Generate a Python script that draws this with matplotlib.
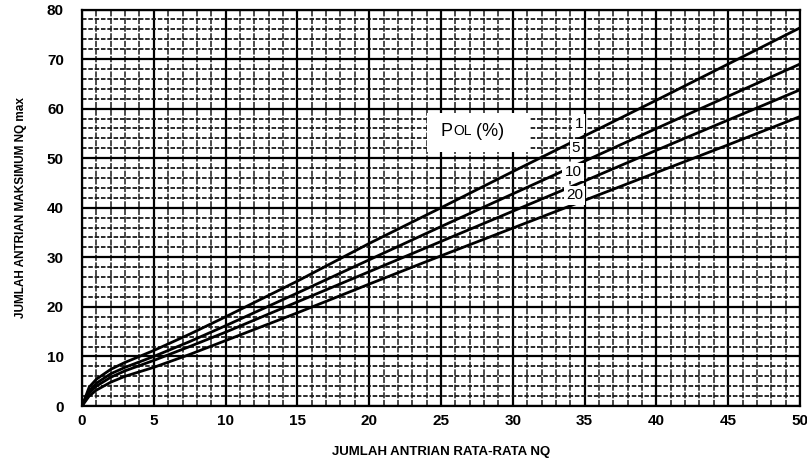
import numpy as np
import matplotlib
matplotlib.use("Agg")
import matplotlib.pyplot as plt
from matplotlib.ticker import MultipleLocator

plt.rcParams['font.family'] = ['Liberation Sans', 'DejaVu Sans']

# Jumlah antrian rata-rata NQ (sumbu x)
nq = [0, 0.5, 1, 2, 3, 5, 7.5, 10, 15, 20, 25, 30, 35, 40, 45, 50]

# Jumlah antrian maksimum NQmax untuk tiap POL (%)
nq_max_1 = [0, 3.8, 5.4, 7.4, 8.8, 11.2, 14.5, 18.0, 25.2, 32.8, 40.0, 47.3, 54.5, 61.7, 69.0, 76.3]
nq_max_5 = [0, 3.0, 4.6, 6.5, 7.8, 10.0, 13.0, 16.2, 22.8, 29.5, 36.2, 42.8, 49.4, 56.0, 62.5, 69.0]
nq_max_10 = [0, 2.6, 4.0, 5.8, 7.1, 9.2, 12.0, 14.9, 21.0, 27.1, 33.2, 39.3, 45.4, 51.6, 57.7, 63.8]
nq_max_20 = [0, 2.0, 3.2, 4.8, 6.0, 7.8, 10.4, 13.2, 18.8, 24.6, 30.3, 35.9, 41.5, 47.1, 52.7, 58.4]

series = [nq_max_1, nq_max_5, nq_max_10, nq_max_20]
labels = ["1", "5", "10", "20"]
label_pos = [(34.6, 57.0), (34.4, 52.0), (34.2, 47.2), (34.3, 42.5)]

fig = plt.figure(figsize=(8.07, 4.62), dpi=100)
ax = fig.add_axes([0.1016, 0.1212, 0.8897, 0.8582])

# Grid kertas milimeter
ax.xaxis.set_major_locator(MultipleLocator(5))
ax.xaxis.set_minor_locator(MultipleLocator(1))
ax.yaxis.set_major_locator(MultipleLocator(10))
ax.yaxis.set_minor_locator(MultipleLocator(2))
ax.grid(which='major', color='black', linewidth=1.6)
ax.xaxis.grid(which='minor', color='#1a1a1a', linewidth=1.1, linestyle=(0, (4, 1)))
ax.yaxis.grid(which='minor', color='#1a1a1a', linewidth=1.3, linestyle=(0, (2.5, 1)))
ax.set_axisbelow(True)

for y in series:
    ax.plot(nq, y, color='black', linewidth=2.0, zorder=3)

for lab, (x, y) in zip(labels, label_pos):
    ax.text(x, y, lab, fontsize=11, ha='center', va='center', zorder=4,
            bbox=dict(facecolor='white', edgecolor='none', pad=1.5))

# Judul legenda POL (%)
ax.add_patch(plt.Rectangle((24.0, 51.2), 7.2, 8.0, facecolor='white',
                           edgecolor='none', zorder=2))
t1 = ax.text(25.0, 55.3, "P", fontsize=13, ha='left', va='center', zorder=4)
t2 = ax.annotate("OL", xy=(1, 0), xycoords=t1, fontsize=10, va='bottom',
                 xytext=(0, 2), textcoords='offset points', zorder=4)
ax.annotate(" (%)", xy=(1, 0), xycoords=t2, fontsize=13, va='bottom',
            xytext=(0, -2), textcoords='offset points', zorder=4)

ax.set_xlim(0, 50)
ax.set_ylim(0, 80)
for sp in ax.spines.values():
    sp.set_linewidth(1.6)
    sp.set_color('black')

ax.tick_params(which='both', length=0)
ax.tick_params(axis='x', pad=6, labelsize=11)
ax.tick_params(axis='y', pad=13, labelsize=11)
for lbl in ax.get_xticklabels() + ax.get_yticklabels():
    lbl.set_fontweight('bold')

ax.set_xlabel('JUMLAH ANTRIAN RATA-RATA NQ', fontsize=9.5, fontweight='bold', labelpad=13)
ax.set_ylabel('JUMLAH ANTRIAN MAKSIMUM NQ max', fontsize=8.5, fontweight='bold', labelpad=14)

fig.savefig('out.png', dpi=100)
